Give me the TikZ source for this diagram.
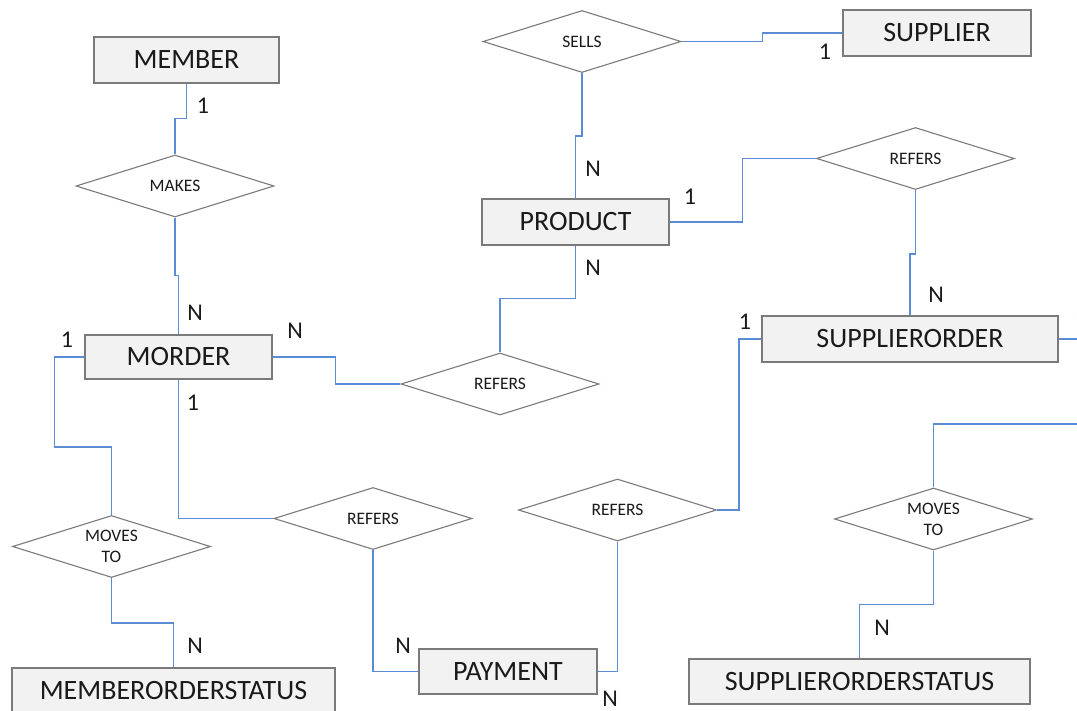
\documentclass[tikz,border=0pt]{standalone}
\usepackage{fontspec}
\setmainfont{Carlito}
\usetikzlibrary{shapes.geometric}

\definecolor{boxfill}{HTML}{F2F2F2}
\definecolor{boxline}{HTML}{7A7A7A}
\definecolor{linkblue}{HTML}{5B8DD6}
\definecolor{ink}{HTML}{1A1A1A}

\tikzset{
  entity/.style={draw=boxline, fill=boxfill, line width=1.2pt, text=ink,
    inner sep=0pt, font=\fontsize{28}{30}\selectfont},
  relation/.style={draw=boxline, fill=white, line width=1.1pt, text=ink,
    diamond, aspect=3.2, inner sep=0pt, minimum width=198pt, minimum height=62pt,
    align=center, font=\fontsize{17.5}{21}\selectfont},
  card/.style={text=ink, inner sep=0pt, font=\fontsize{24}{26}\selectfont},
  link/.style={draw=linkblue, line width=1.7pt}
}

\begin{document}
\begin{tikzpicture}[x=1pt, y=-1pt]
\useasboundingbox (0,0) rectangle (1077,711);
\clip (0,0) rectangle (1077,711);

% entities
\node[entity, minimum width=185pt, minimum height=46pt] (member) at (186.5,60) {MEMBER};
\node[entity, minimum width=188pt, minimum height=46pt] (supplier) at (937,33) {SUPPLIER};
\node[entity, minimum width=187pt, minimum height=46pt] (product) at (575.5,222) {PRODUCT};
\node[entity, minimum width=187pt, minimum height=44pt] (morder) at (178.5,357) {MORDER};
\node[entity, minimum width=296pt, minimum height=46pt] (sorder) at (910,339) {SUPPLIERORDER};
\node[entity, minimum width=323pt, minimum height=46pt] (mos) at (173.5,691) {MEMBERORDERSTATUS};
\node[entity, minimum width=178pt, minimum height=45pt] (payment) at (508,671.5) {PAYMENT};
\node[entity, minimum width=341pt, minimum height=45pt] (sos) at (859.5,681.5) {SUPPLIERORDERSTATUS};

% relationships
\node[relation] (makes) at (175,186) {MAKES};
\node[relation] (sells) at (582,41.5) {SELLS};
\node[relation] (rtr) at (915.5,158.5) {REFERS};
\node[relation] (rmid) at (500,384) {REFERS};
\node[relation] (mvl) at (111.5,546.5) {MOVES\\TO};
\node[relation] (rl) at (373,518.5) {REFERS};
\node[relation] (rr) at (617.5,510) {REFERS};
\node[relation] (mvr) at (933.5,519) {MOVES\\TO};

% free ends leaving the sheet on the right
\coordinate (offa) at (1090,424);
\coordinate (offb) at (1090,339);

% connectors
\draw[link] (member.south) -- ++(0,35) -| (makes.north);
\draw[link] (makes.south) -- ++(0,58) -| (morder.north);
\draw[link] (sells.south) -- ++(0,63) -| (product.north);
\draw[link] (sells.east) -- ++(81,0) |- (supplier.west);
\draw[link] (product.east) -- ++(73,0) |- (rtr.west);
\draw[link] (rtr.south) -- ++(0,64) -| (sorder.north);
\draw[link] (product.south) -- ++(0,53) -| (rmid.north);
\draw[link] (morder.east) -- ++(63,0) |- (rmid.west);
\draw[link] (morder.west) -- ++(-30,0) -- ++(0,90) -| (mvl.north);
\draw[link] (mvl.south) -- ++(0,45) -| (mos.north);
\draw[link] (morder.south) |- (rl.west);
\draw[link] (rl.south) |- (payment.west);
\draw[link] (rr.south) |- (payment.east);
\draw[link] (rr.east) -- ++(22,0) |- (sorder.west);
\draw[link] (mvr.north) |- (offa);
\draw[link] (mvr.south) -- ++(0,54) -| (sos.north);
\draw[link] (sorder.east) -- (offb);

% cardinalities
\node[card] (c1) at (203,106) {1};
\node[card] (c2) at (195,313) {N};
\node[card] (c3) at (295,331) {N};
\node[card] (c4) at (67,340) {1};
\node[card] (c5) at (193,403) {1};
\node[card] (c6) at (593,169) {N};
\node[card] (c7) at (690,197) {1};
\node[card] (c8) at (825,52) {1};
\node[card] (c9) at (593,268) {N};
\node[card] (c10) at (936,295) {N};
\node[card] (c11) at (745,322) {1};
\node[card] (c12) at (1081,322) {1};
\node[card] (c13) at (195,646) {N};
\node[card] (c14) at (403,646) {N};
\node[card] (c15) at (610,699) {N};
\node[card] (c16) at (882,628) {N};
\end{tikzpicture}
\end{document}
